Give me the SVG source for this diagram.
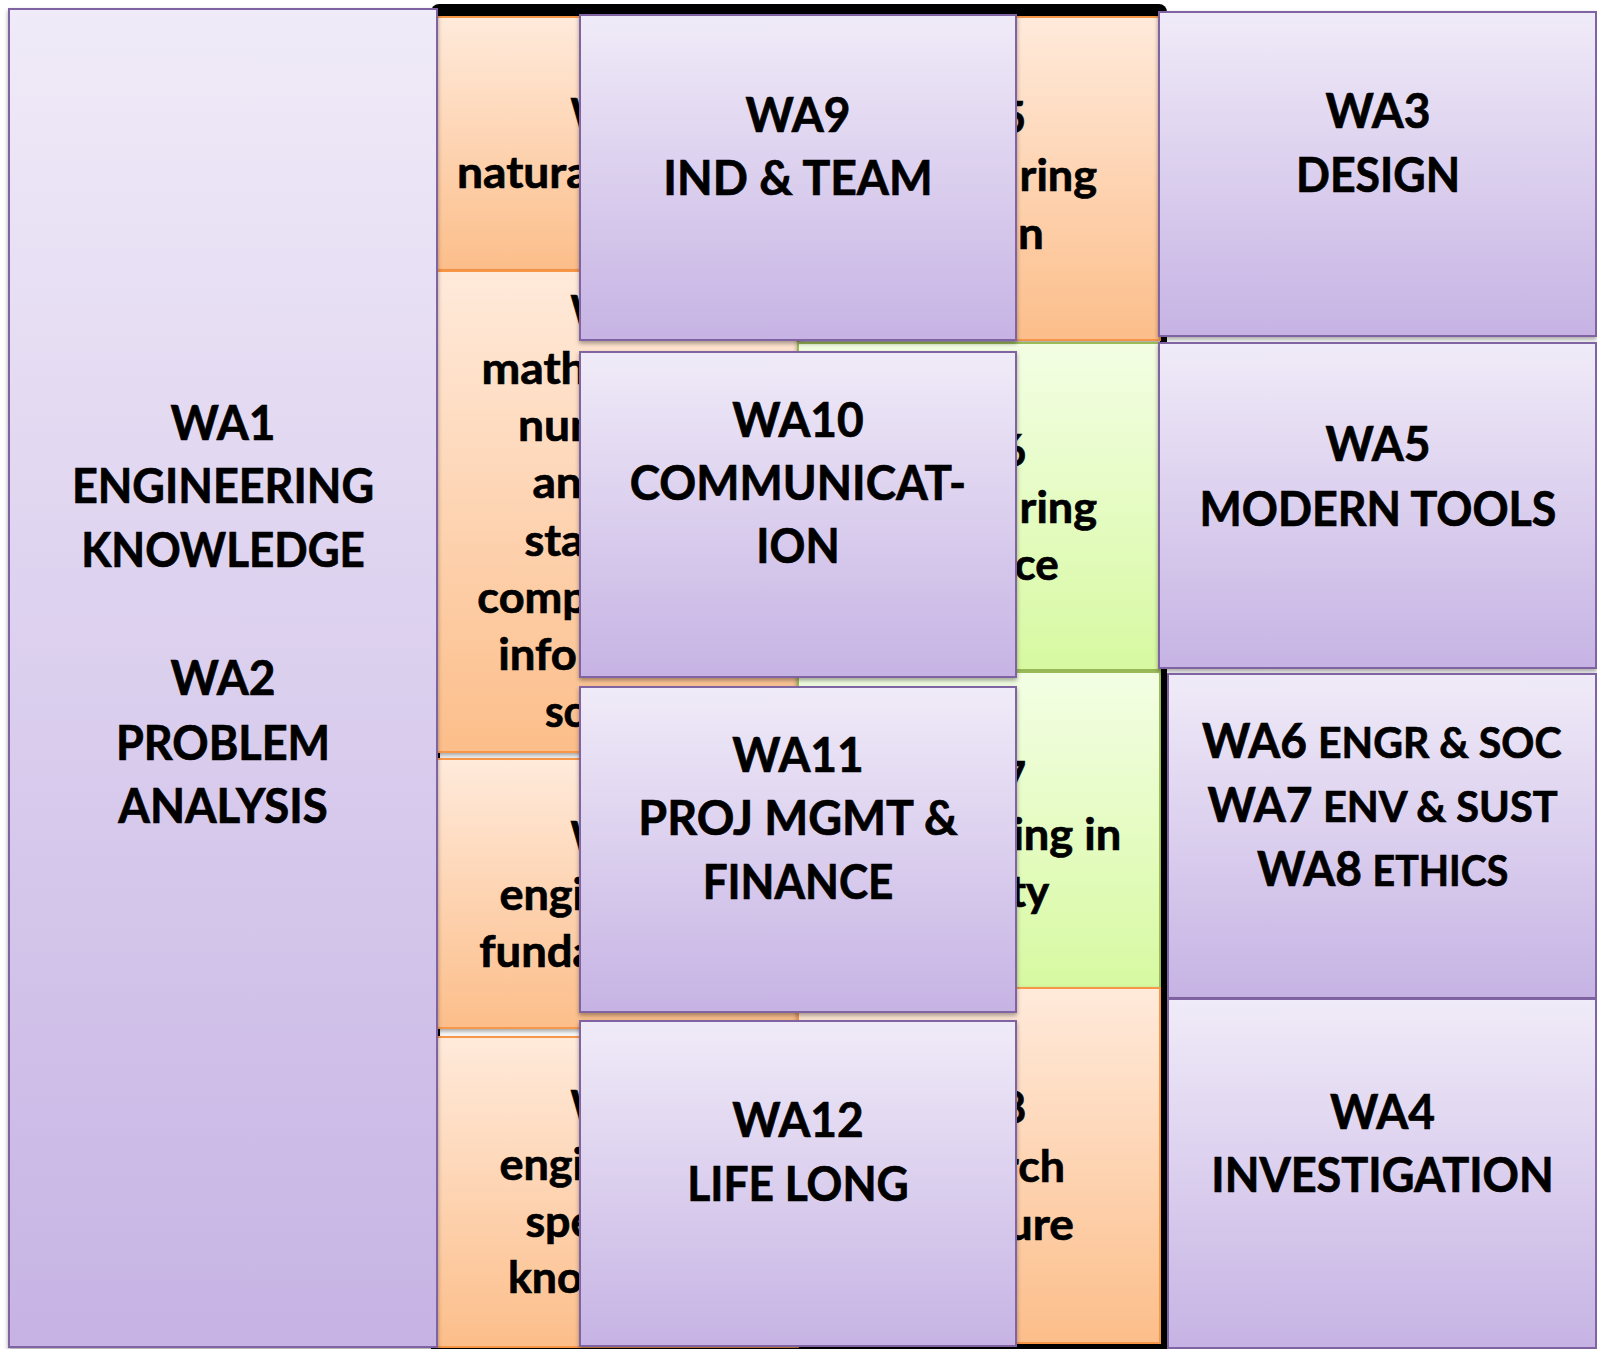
<svg xmlns="http://www.w3.org/2000/svg" width="1597" height="1349" viewBox="0 0 1597 1349">
  <defs>
    <linearGradient id="gPurple" x1="0" y1="0" x2="0" y2="1">
      <stop offset="0" stop-color="#F0EBF8"/>
      <stop offset="1" stop-color="#C6B3E4"/>
    </linearGradient>
    <linearGradient id="gOrange" x1="0" y1="0" x2="0" y2="1">
      <stop offset="0" stop-color="#FFEADB"/>
      <stop offset="1" stop-color="#FCBE8A"/>
    </linearGradient>
    <linearGradient id="gGreen" x1="0" y1="0" x2="0" y2="1">
      <stop offset="0" stop-color="#F3FEE4"/>
      <stop offset="1" stop-color="#D7F9A1"/>
    </linearGradient>
    <filter id="sh" x="-5%" y="-5%" width="110%" height="112%">
      <feDropShadow dx="0" dy="2.5" stdDeviation="2" flood-color="#000" flood-opacity="0.35"/>
    </filter>
    <style>
      .box { fill: url(#gPurple); stroke: #8064A2; stroke-width: 2; filter: url(#sh); }
      .cellO { fill: url(#gOrange); stroke: #F79646; stroke-width: 2; filter: url(#sh); }
      .cellG { fill: url(#gGreen); stroke: #9BBB59; stroke-width: 2; filter: url(#sh); }
      .lbl, .mix, .wk { font-family: Lato, "Liberation Sans", sans-serif; font-weight: 700; fill: #000; stroke: #000; stroke-width: 0.7; }
      .lbl { font-size: 47px; text-anchor: middle; }
      .mix { font-size: 47px; }
      .sm { font-size: 42px; }
      .wk { font-size: 44px; }
    </style>
  </defs>

  <rect width="1597" height="1349" fill="#FFFFFF"/>

  <!-- frame behind the knowledge-profile grid -->
  <g id="frame">
    <rect x="431" y="4" width="736" height="1360" rx="8" fill="#000"/>
    <rect x="440" y="16" width="720" height="1327" fill="#FFFFFF"/>
  </g>

  <!-- knowledge cells, left column -->
  <g id="wk1">
    <rect class="cellO" x="437" y="17" width="361" height="253"/>
    <text class="wk" x="570.5" y="130" textLength="43.5" lengthAdjust="spacingAndGlyphs">W</text>
    <text class="wk" x="457" y="188" textLength="132.7" lengthAdjust="spacingAndGlyphs">natura</text>
  </g>
  <g id="wk2">
    <rect class="cellO" x="437" y="271" width="361" height="481"/>
    <text class="wk" x="570.5" y="327" textLength="43.5" lengthAdjust="spacingAndGlyphs">W</text>
    <text class="wk" x="481.5" y="384" textLength="105.2" lengthAdjust="spacingAndGlyphs">math</text>
    <text class="wk" x="518" y="441" textLength="90.6" lengthAdjust="spacingAndGlyphs">num</text>
    <text class="wk" x="532.4" y="498" textLength="49.5" lengthAdjust="spacingAndGlyphs">an</text>
    <text class="wk" x="524.4" y="556" textLength="59.5" lengthAdjust="spacingAndGlyphs">sta</text>
    <text class="wk" x="477.3" y="613" textLength="110.7" lengthAdjust="spacingAndGlyphs">comp</text>
    <text class="wk" x="498.3" y="670" textLength="78.6" lengthAdjust="spacingAndGlyphs">info</text>
    <text class="wk" x="544.9" y="727" textLength="39.2" lengthAdjust="spacingAndGlyphs">sc</text>
  </g>
  <g id="wk3">
    <rect class="cellO" x="437" y="759" width="361" height="269"/>
    <text class="wk" x="570.5" y="853" textLength="43.5" lengthAdjust="spacingAndGlyphs">W</text>
    <text class="wk" x="499.5" y="910" textLength="84.5" lengthAdjust="spacingAndGlyphs">engi</text>
    <text class="wk" x="479.3" y="967" textLength="116.2" lengthAdjust="spacingAndGlyphs">funda</text>
  </g>
  <g id="wk4">
    <rect class="cellO" x="437" y="1037" width="361" height="310"/>
    <text class="wk" x="570.5" y="1122" textLength="43.5" lengthAdjust="spacingAndGlyphs">W</text>
    <text class="wk" x="499.5" y="1180" textLength="84.5" lengthAdjust="spacingAndGlyphs">engi</text>
    <text class="wk" x="525.4" y="1237" textLength="69.1" lengthAdjust="spacingAndGlyphs">spe</text>
    <text class="wk" x="508" y="1293" textLength="74.6" lengthAdjust="spacingAndGlyphs">kno</text>
  </g>

  <!-- knowledge cells, right column -->
  <g id="wk5">
    <rect class="cellO" x="798" y="17" width="362" height="323"/>
    <text class="wk" x="1001.7" y="133" textLength="24.3" lengthAdjust="spacingAndGlyphs">5</text>
    <text class="wk" x="1019.6" y="191" textLength="77.4" lengthAdjust="spacingAndGlyphs">ring</text>
    <text class="wk" x="1017.9" y="249" textLength="25.8" lengthAdjust="spacingAndGlyphs">n</text>
  </g>
  <g id="wk6">
    <rect class="cellG" x="798" y="343" width="362" height="327"/>
    <text class="wk" x="1001.7" y="466" textLength="24.3" lengthAdjust="spacingAndGlyphs">6</text>
    <text class="wk" x="1019.6" y="523" textLength="77.4" lengthAdjust="spacingAndGlyphs">ring</text>
    <text class="wk" x="1014.4" y="580" textLength="44.2" lengthAdjust="spacingAndGlyphs">ce</text>
  </g>
  <g id="wk7">
    <rect class="cellG" x="798" y="672" width="362" height="316"/>
    <text class="wk" x="1001.7" y="793" textLength="24.3" lengthAdjust="spacingAndGlyphs">7</text>
    <text class="wk" x="1012.4" y="850" textLength="108.8" lengthAdjust="spacingAndGlyphs">ing in</text>
    <text class="wk" x="1009.8" y="907" textLength="39.4" lengthAdjust="spacingAndGlyphs">ty</text>
  </g>
  <g id="wk8">
    <rect class="cellO" x="798" y="988" width="362" height="355"/>
    <text class="wk" x="1001.7" y="1123" textLength="24.3" lengthAdjust="spacingAndGlyphs">8</text>
    <text class="wk" x="1002.1" y="1182" textLength="62.9" lengthAdjust="spacingAndGlyphs">rch</text>
    <text class="wk" x="1006.8" y="1240" textLength="67" lengthAdjust="spacingAndGlyphs">ure</text>
  </g>

  <!-- attribute boxes, middle column -->
  <g id="wa9">
    <rect class="box" x="580" y="15" width="436" height="325"/>
    <text class="lbl" x="798" y="132" textLength="105" lengthAdjust="spacingAndGlyphs">WA9</text>
    <text class="lbl" x="798" y="195" textLength="269.3" lengthAdjust="spacingAndGlyphs">IND &amp; TEAM</text>
  </g>
  <g id="wa10">
    <rect class="box" x="580" y="352" width="436" height="325"/>
    <text class="lbl" x="798" y="437" textLength="131.4" lengthAdjust="spacingAndGlyphs">WA10</text>
    <text class="lbl" x="798" y="500" textLength="336.4" lengthAdjust="spacingAndGlyphs">COMMUNICAT-</text>
    <text class="lbl" x="798" y="563" textLength="83.3" lengthAdjust="spacingAndGlyphs">ION</text>
  </g>
  <g id="wa11">
    <rect class="box" x="580" y="687" width="436" height="325"/>
    <text class="lbl" x="798" y="772" textLength="131.4" lengthAdjust="spacingAndGlyphs">WA11</text>
    <text class="lbl" x="798" y="835" textLength="319.3" lengthAdjust="spacingAndGlyphs">PROJ MGMT &amp;</text>
    <text class="lbl" x="798" y="899" textLength="190.7" lengthAdjust="spacingAndGlyphs">FINANCE</text>
  </g>
  <g id="wa12">
    <rect class="box" x="580" y="1021" width="436" height="325"/>
    <text class="lbl" x="798" y="1137" textLength="131.4" lengthAdjust="spacingAndGlyphs">WA12</text>
    <text class="lbl" x="798" y="1201" textLength="221.4" lengthAdjust="spacingAndGlyphs">LIFE LONG</text>
  </g>

  <!-- attribute box, left column -->
  <g id="wa1-wa2">
    <rect class="box" x="9" y="9" width="428" height="1338"/>
    <text class="lbl" x="223" y="440" textLength="105" lengthAdjust="spacingAndGlyphs">WA1</text>
    <text class="lbl" x="223" y="503" textLength="302.2" lengthAdjust="spacingAndGlyphs">ENGINEERING</text>
    <text class="lbl" x="223" y="567" textLength="283.6" lengthAdjust="spacingAndGlyphs">KNOWLEDGE</text>
    <text class="lbl" x="223" y="695" textLength="105" lengthAdjust="spacingAndGlyphs">WA2</text>
    <text class="lbl" x="223" y="760" textLength="214.1" lengthAdjust="spacingAndGlyphs">PROBLEM</text>
    <text class="lbl" x="223" y="823" textLength="209.4" lengthAdjust="spacingAndGlyphs">ANALYSIS</text>
  </g>

  <!-- attribute boxes, right column -->
  <g id="wa3">
    <rect class="box" x="1159" y="12" width="437" height="324"/>
    <text class="lbl" x="1378" y="128" textLength="105" lengthAdjust="spacingAndGlyphs">WA3</text>
    <text class="lbl" x="1378" y="192" textLength="164" lengthAdjust="spacingAndGlyphs">DESIGN</text>
  </g>
  <g id="wa5">
    <rect class="box" x="1159" y="343" width="437" height="325"/>
    <text class="lbl" x="1378" y="461" textLength="105" lengthAdjust="spacingAndGlyphs">WA5</text>
    <text class="lbl" x="1378" y="526" textLength="356.8" lengthAdjust="spacingAndGlyphs">MODERN TOOLS</text>
  </g>
  <g id="wa6-wa8">
    <rect class="box" x="1168" y="674" width="428" height="324"/>
    <text class="mix" y="758"><tspan x="1202" textLength="105" lengthAdjust="spacingAndGlyphs">WA6</tspan> <tspan class="sm" x="1318" textLength="243.6" lengthAdjust="spacingAndGlyphs">ENGR &amp; SOC</tspan></text>
    <text class="mix" y="822"><tspan x="1207.5" textLength="105" lengthAdjust="spacingAndGlyphs">WA7</tspan> <tspan class="sm" x="1323" textLength="234.6" lengthAdjust="spacingAndGlyphs">ENV &amp; SUST</tspan></text>
    <text class="mix" y="886"><tspan x="1257" textLength="105" lengthAdjust="spacingAndGlyphs">WA8</tspan> <tspan class="sm" x="1372.6" textLength="135.6" lengthAdjust="spacingAndGlyphs">ETHICS</tspan></text>
  </g>
  <g id="wa4">
    <rect class="box" x="1168" y="999" width="428" height="349"/>
    <text class="lbl" x="1382.5" y="1129" textLength="105" lengthAdjust="spacingAndGlyphs">WA4</text>
    <text class="lbl" x="1382.5" y="1192" textLength="342.4" lengthAdjust="spacingAndGlyphs">INVESTIGATION</text>
  </g>
</svg>
